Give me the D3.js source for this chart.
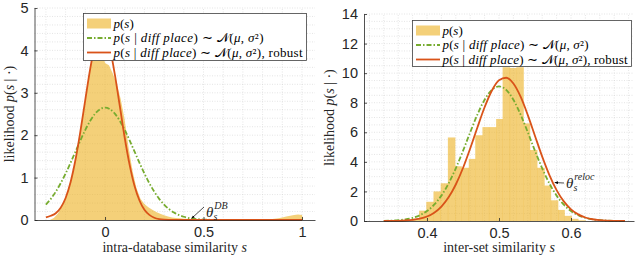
<!DOCTYPE html>
<html>
<head>
<meta charset="utf-8">
<script src="https://d3js.org/d3.v7.min.js"></script>
<style>
    body { margin: 0; background: #fff; }
    .grid line { stroke: #d4d4d4; stroke-width: 0.6; stroke-dasharray: 1,1.5; }
    .axis path, .axis line { stroke: #262626; stroke-width: 0.8; }
    .axis text { font-family: "Liberation Sans", Arial, sans-serif; font-size: 14.5px; fill: #262626; }
    .lab { font-family: "Liberation Serif", serif; font-size: 14px; fill: #262626; }
    .leg { font-family: "Liberation Serif", serif; font-size: 13px; fill: #000; }
</style>
</head>
<body>
<svg id="chart" width="640" height="258"></svg>
<script>
// ---------- left panel: intra-database similarity ----------
const leftHistS = [-0.28, -0.26, -0.24, -0.22, -0.20, -0.18, -0.16, -0.14, -0.12, -0.10, -0.08, -0.06, -0.04, -0.02,
    0.00, 0.02, 0.04, 0.06, 0.08, 0.10, 0.12, 0.14, 0.16, 0.18, 0.20, 0.22, 0.24, 0.26, 0.28, 0.30, 0.32, 0.34,
    0.36, 0.38, 0.40, 0.45, 0.50, 0.60, 0.70, 0.80, 0.84, 0.88, 0.90, 0.92, 0.94, 0.96, 0.98, 1.00, 1.005];
const leftHist = [0, 0.05, 0.15, 0.3, 0.5, 0.8, 1.2, 1.68, 2.25, 2.85, 3.45, 3.95, 4.15, 4.05,
    3.7, 3.65, 3.45, 3.2, 2.85, 2.35, 1.7, 1.15, 0.75, 0.5, 0.38, 0.3, 0.24, 0.19, 0.15, 0.11, 0.08, 0.06,
    0.05, 0.04, 0.03, 0.02, 0.02, 0.015, 0.01, 0.015, 0.02, 0.04, 0.06, 0.08, 0.1, 0.12, 0.13, 0.12, 0];

const leftFitS = [-0.3, -0.275, -0.25, -0.225, -0.2, -0.175, -0.15, -0.125, -0.1, -0.075, -0.05, -0.025, 0,
    0.025, 0.05, 0.075, 0.1, 0.125, 0.15, 0.175, 0.2, 0.225, 0.25, 0.275, 0.3, 0.35, 0.4, 0.45, 0.5, 0.55, 0.6, 0.7, 1.0];
const leftGauss = [0.363, 0.499, 0.667, 0.867, 1.096, 1.348, 1.613, 1.877, 2.125, 2.34, 2.508, 2.614, 2.65,
    2.614, 2.508, 2.34, 2.125, 1.877, 1.613, 1.348, 1.096, 0.867, 0.667, 0.499, 0.363, 0.177, 0.077, 0.03, 0.011, 0.003, 0.001, 0, 0];
const leftRobust = [0.06, 0.1, 0.16, 0.29, 0.52, 0.89, 1.42, 2.09, 2.84, 3.57, 4.15, 4.45, 4.42,
    4.05, 3.43, 2.69, 1.94, 1.3, 0.8, 0.46, 0.24, 0.12, 0.053, 0.022, 0.009, 0.001, 0, 0, 0, 0, 0, 0, 0];

const leftXTicks = [0, 0.5, 1];
const leftYTicks = [0, 1, 2, 3, 4, 5];

// ---------- right panel: inter-set similarity ----------
const rightEdges = [0.370, 0.380, 0.389, 0.399, 0.409, 0.419, 0.429, 0.439, 0.448, 0.458, 0.467, 0.477, 0.486,
    0.496, 0.505, 0.515, 0.524, 0.534, 0.543, 0.553, 0.563, 0.572, 0.582, 0.591, 0.601, 0.610, 0.620];
const rightHist = [0.05, 0.15, 0.7, 1.3, 2.0, 2.55, 5.65, 3.7, 3.6, 4.2, 5.8, 6.35, 6.35,
    6.9, 10.4, 10.35, 10.4, 6.6, 4.8, 3.6, 2.4, 1.4, 0.75, 0.35, 0.15, 0.05];

const rightFitS = [0.34, 0.35, 0.36, 0.37, 0.38, 0.39, 0.40, 0.41, 0.42, 0.43, 0.44, 0.45, 0.46, 0.47, 0.48, 0.49,
    0.50, 0.51, 0.52, 0.53, 0.54, 0.55, 0.56, 0.57, 0.58, 0.59, 0.60, 0.61, 0.62, 0.63, 0.64, 0.65, 0.66, 0.67, 0.675];
const rightGauss = [0.012, 0.026, 0.055, 0.111, 0.213, 0.389, 0.671, 1.102, 1.716, 2.538, 3.561, 4.743, 5.997, 7.197, 8.199, 8.866,
    9.1, 8.866, 8.199, 7.197, 5.997, 4.743, 3.561, 2.538, 1.716, 1.102, 0.671, 0.389, 0.213, 0.111, 0.055, 0.026, 0.012, 0.005, 0.003];
const rightRobust = [0.002, 0.006, 0.015, 0.035, 0.076, 0.157, 0.307, 0.565, 0.98, 1.601, 2.468, 3.583, 4.904, 6.326, 7.691, 8.812,
    9.519, 9.688, 9.296, 8.405, 7.163, 5.754, 4.356, 3.109, 2.09, 1.325, 0.791, 0.446, 0.237, 0.118, 0.056, 0.025, 0.01, 0.004, 0.003];

const rightXTicks = [0.4, 0.5, 0.6];
const rightYTicks = [0, 2, 4, 6, 8, 10, 12, 14];

const histColor = "#edb120", gaussColor = "#77ac30", robustColor = "#d95319";

const svg = d3.select("#chart");

svg.append("defs").append("marker")
    .attr("id", "arr").attr("viewBox", "0 0 10 10").attr("refX", 9).attr("refY", 5)
    .attr("markerWidth", 5).attr("markerHeight", 5).attr("orient", "auto")
    .append("path").attr("d", "M0,1 L10,5 L0,9 z").attr("fill", "#000");

// writes a run of [text, italic] pieces into a text element
function rich(sel, parts) {
    parts.forEach(p => {
        sel.append("tspan").text(p[0]).attr("font-style", p[1] ? "italic" : "normal");
    });
}

const condParts = [["p", 1], ["(", 0], ["s", 1], [" | ", 0], ["diff place", 1], [") ∼ ", 0], ["𝒩", 0], ["(", 0], ["μ", 1], [", ", 0], ["σ", 1], ["²)", 0]];

function panel(o) {
    const g = svg.append("g");
    const x = d3.scaleLinear().domain(o.xDomain).range(o.xRange);
    const y = d3.scaleLinear().domain(o.yDomain).range(o.yRange);

    // grid, major + minor
    const grid = g.append("g").attr("class", "grid");
    const vx = d3.range(Math.ceil(o.xDomain[0] / o.xMinor), Math.floor(o.xDomain[1] / o.xMinor) + 1).map(i => i * o.xMinor);
    const hy = d3.range(0, Math.round(o.yDomain[1] / o.yMinor) + 1).map(i => i * o.yMinor);
    grid.selectAll(".v").data(vx).join("line")
        .attr("x1", d => x(d)).attr("x2", d => x(d))
        .attr("y1", o.yRange[0]).attr("y2", o.yRange[1]);
    grid.selectAll(".h").data(hy.slice(1)).join("line")
        .attr("x1", o.xRange[0]).attr("x2", o.xRange[1])
        .attr("y1", d => y(d)).attr("y2", d => y(d));

    // histogram
    if (o.histS) {
        const area = d3.area().x(d => x(d[0])).y0(y(0)).y1(d => y(d[1]));
        g.append("path").datum(d3.zip(o.histS, o.hist))
            .attr("d", area).attr("fill", histColor).attr("fill-opacity", 0.6);
    } else {
        const bins = o.hist.map((v, i) => ({x0: o.edges[i], x1: o.edges[i + 1], v: v}));
        g.selectAll(".bar").data(bins).join("rect")
            .attr("x", d => x(d.x0)).attr("width", d => x(d.x1) - x(d.x0) + 0.3)
            .attr("y", d => y(d.v)).attr("height", d => y(0) - y(d.v))
            .attr("fill", histColor).attr("fill-opacity", 0.6);
    }

    const line = d3.line().x(d => x(d[0])).y(d => y(d[1])).curve(d3.curveMonotoneX);
    g.append("path").datum(d3.zip(o.fitS, o.gauss)).attr("d", line)
        .attr("fill", "none").attr("stroke", gaussColor).attr("stroke-width", 1.8)
        .attr("stroke-dasharray", "5,2,1.5,2");
    g.append("path").datum(d3.zip(o.fitS, o.robust)).attr("d", line)
        .attr("fill", "none").attr("stroke", robustColor).attr("stroke-width", 1.8);

    // axes
    g.append("g").attr("class", "axis")
        .attr("transform", "translate(0," + o.yRange[0] + ")")
        .call(d3.axisBottom(x).tickValues(o.xTicks).tickSizeInner(-3).tickSizeOuter(0).tickPadding(7).tickFormat(d3.format("")));
    g.append("g").attr("class", "axis")
        .attr("transform", "translate(" + o.xRange[0] + ",0)")
        .call(d3.axisLeft(y).tickValues(o.yTicks).tickSizeInner(-3).tickSizeOuter(0).tickPadding(6).tickFormat(d3.format("d")));

    // axis labels
    const xl = g.append("text").attr("class", "lab").attr("text-anchor", "middle")
        .attr("x", (o.xRange[0] + o.xRange[1]) / 2).attr("y", 252);
    rich(xl, [[o.xLabel + " ", 0], ["s", 1]]);
    const cy = (o.yRange[0] + o.yRange[1]) / 2;
    const yl = g.append("text").attr("class", "lab").attr("text-anchor", "middle")
        .attr("transform", "translate(" + o.yLabelX + "," + cy + ") rotate(-90)");
    rich(yl, [["likelihood ", 0], ["p", 1], ["(", 0], ["s", 1], [" | ·)", 0]]);

    // threshold annotation
    const t = o.theta;
    g.append("line").attr("x1", t.from[0]).attr("y1", t.from[1])
        .attr("x2", x(t.at[0])).attr("y2", y(t.at[1]))
        .attr("stroke", "#000").attr("stroke-width", 0.7).attr("marker-end", "url(#arr)");
    const th = g.append("text").attr("class", "lab").attr("fill", "#000").attr("font-style", "italic")
        .attr("x", t.text[0]).attr("y", t.text[1]);
    th.append("tspan").attr("font-size", 15).text("θ");
    th.append("tspan").attr("font-size", 10).attr("dy", 3).text("s");
    th.append("tspan").attr("font-size", 10).attr("dx", -3).attr("dy", -11).text(t.sup);

    // legend
    const L = o.legend;
    const lg = g.append("g").attr("transform", "translate(" + L.x + "," + L.y + ")");
    lg.append("rect").attr("width", L.w).attr("height", L.h)
        .attr("fill", "#fff").attr("stroke", "#404040").attr("stroke-width", 0.8);
    const rows = [10, 24.5, 39];
    lg.append("rect").attr("x", 3.5).attr("y", rows[0] - 5).attr("width", 24).attr("height", 10)
        .attr("fill", histColor).attr("fill-opacity", 0.6);
    lg.append("line").attr("x1", 3.5).attr("x2", 27.5).attr("y1", rows[1]).attr("y2", rows[1])
        .attr("stroke", gaussColor).attr("stroke-width", 1.8).attr("stroke-dasharray", "5,2,1.5,2");
    lg.append("line").attr("x1", 3.5).attr("x2", 27.5).attr("y1", rows[2]).attr("y2", rows[2])
        .attr("stroke", robustColor).attr("stroke-width", 1.8);
    const t0 = lg.append("text").attr("class", "leg").attr("x", 30).attr("y", rows[0] + 4);
    rich(t0, [["p", 1], ["(", 0], ["s", 1], [")", 0]]);
    const t1 = lg.append("text").attr("class", "leg").attr("x", 30).attr("y", rows[1] + 4)
        .attr("textLength", L.w1).attr("lengthAdjust", "spacing");
    rich(t1, condParts);
    const t2 = lg.append("text").attr("class", "leg").attr("x", 30).attr("y", rows[2] + 4)
        .attr("textLength", L.w2).attr("lengthAdjust", "spacing");
    rich(t2, condParts.concat([[", robust", 0]]));
}

panel({
    xDomain: [-0.358, 1.066], xRange: [34.5, 315],
    yDomain: [0, 5], yRange: [220, 8],
    xMinor: 0.1, yMinor: 0.2,
    xTicks: leftXTicks, yTicks: leftYTicks,
    histS: leftHistS, hist: leftHist,
    fitS: leftFitS, gauss: leftGauss, robust: leftRobust,
    xLabel: "intra-database similarity", yLabelX: 14,
    theta: {from: [204, 207], at: [0.44, 0.04], text: [206, 217], sup: "DB"},
    legend: {x: 83.5, y: 13.5, w: 223, h: 47, w1: 150, w2: 189}
});

panel({
    xDomain: [0.3125, 0.6875], xRange: [364, 634],
    yDomain: [0, 14], yRange: [221, 14],
    xMinor: 0.02, yMinor: 0.5,
    xTicks: rightXTicks, yTicks: rightYTicks,
    edges: rightEdges, hist: rightHist,
    fitS: rightFitS, gauss: rightGauss, robust: rightRobust,
    xLabel: "inter-set similarity", yLabelX: 334,
    theta: {from: [564, 183], at: [0.5775, 2.6], text: [566, 188], sup: "reloc"},
    legend: {x: 412.5, y: 20.5, w: 219, h: 46, w1: 146, w2: 185}
});
</script>
</body>
</html>
